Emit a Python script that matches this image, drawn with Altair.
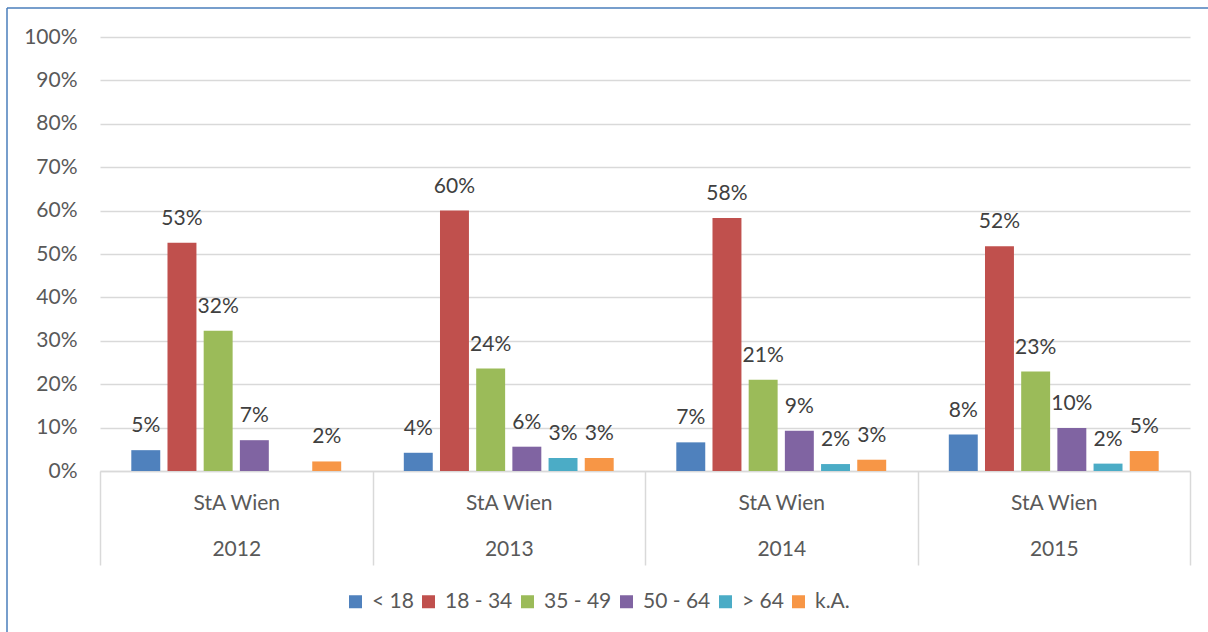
import altair as alt
import pandas as pd

# Age structure of the accused, StA Wien, 2012-2015
years = ["2012", "2013", "2014", "2015"]
age_groups = ["< 18", "18 - 34", "35 - 49", "50 - 64", "> 64", "k.A."]
group_colors = ["#4f81bd", "#c0504d", "#9bbb59", "#8064a2", "#4bacc6", "#f79646"]

share_under_18 = [0.048, 0.042, 0.066, 0.084]
share_18_34 = [0.526, 0.600, 0.583, 0.518]
share_35_49 = [0.323, 0.236, 0.210, 0.229]
share_50_64 = [0.071, 0.056, 0.093, 0.099]
share_over_64 = [None, 0.030, 0.016, 0.017]
share_unknown = [0.022, 0.030, 0.026, 0.046]

series = [share_under_18, share_18_34, share_35_49, share_50_64, share_over_64, share_unknown]
rows = []
for group, values in zip(age_groups, series):
    for year, v in zip(years, values):
        rows.append({"year": year, "group": group, "share": v})
df = pd.DataFrame(rows)

W, H = 1090, 434
FONT = "Lato"
FS = 21
GRID = "#d9d9d9"

base = alt.Chart(df).encode(
    x=alt.X(
        "year:N",
        sort=years,
        title=None,
        scale=alt.Scale(paddingInner=0, paddingOuter=0),
        axis=alt.Axis(
            tickBand="extent",
            tickSize=94,
            tickColor=GRID,
            tickWidth=1.5,
            domainColor=GRID,
            domainWidth=1.5,
            grid=False,
            labelAngle=0,
            labelExpr="datum.label ? ['StA Wien', datum.label] : ''",
            labelLineHeight=46,
            labelBaseline="top",
            labelPadding=-73,
            labelFont=FONT,
            labelFontSize=FS,
            labelColor="#595959",
        ),
    ),
    xOffset=alt.XOffset(
        "group:N",
        sort=age_groups,
        scale=alt.Scale(paddingInner=0.2, paddingOuter=0.865),
    ),
    y=alt.Y(
        "share:Q",
        title=None,
        scale=alt.Scale(domain=[0, 1]),
        axis=alt.Axis(
            values=[i / 10 for i in range(11)],
            format=".0%",
            domain=False,
            ticks=False,
            gridColor=GRID,
            gridWidth=1.5,
            labelPadding=23,
            labelFont=FONT,
            labelFontSize=FS,
            labelColor="#595959",
        ),
    ),
)

bars = base.mark_bar().encode(
    color=alt.Color(
        "group:N",
        sort=age_groups,
        scale=alt.Scale(domain=age_groups, range=group_colors),
        legend=alt.Legend(
            title=None,
            orient="none",
            legendX=245,
            legendY=554,
            direction="horizontal",
            symbolType="square",
            symbolSize=169,
            symbolStrokeWidth=0,
            labelFont=FONT,
            labelFontSize=FS,
            labelColor="#595959",
            labelOffset=6,
            columnPadding=4,
        ),
    )
)

labels = base.mark_text(
    baseline="alphabetic", dy=-18, font=FONT, fontSize=FS, color="#404040"
).encode(text=alt.Text("share:Q", format=".0%"))

# outer frame of the chart box (left and top edges)
frame_df = pd.DataFrame({"edge": ["frame"]})
frame_left = alt.Chart(frame_df).mark_rule(color="#4a7ebb", strokeWidth=1.5).encode(
    x=alt.value(-93), y=alt.value(-29), y2=alt.value(H + 161)
)
frame_top = alt.Chart(frame_df).mark_rule(color="#4a7ebb", strokeWidth=1.5).encode(
    x=alt.value(-93), x2=alt.value(W + 18), y=alt.value(-29)
)

chart = (
    alt.layer(bars, labels, frame_left, frame_top)
    .properties(
        width=W,
        height=H,
        autosize=alt.AutoSizeParams(type="none"),
        padding={"left": 100, "top": 37, "right": 18, "bottom": 161},
        background="white",
    )
    .configure_view(strokeWidth=0)
)

chart.save("out.html", embed_options={"renderer": "svg", "actions": False})
